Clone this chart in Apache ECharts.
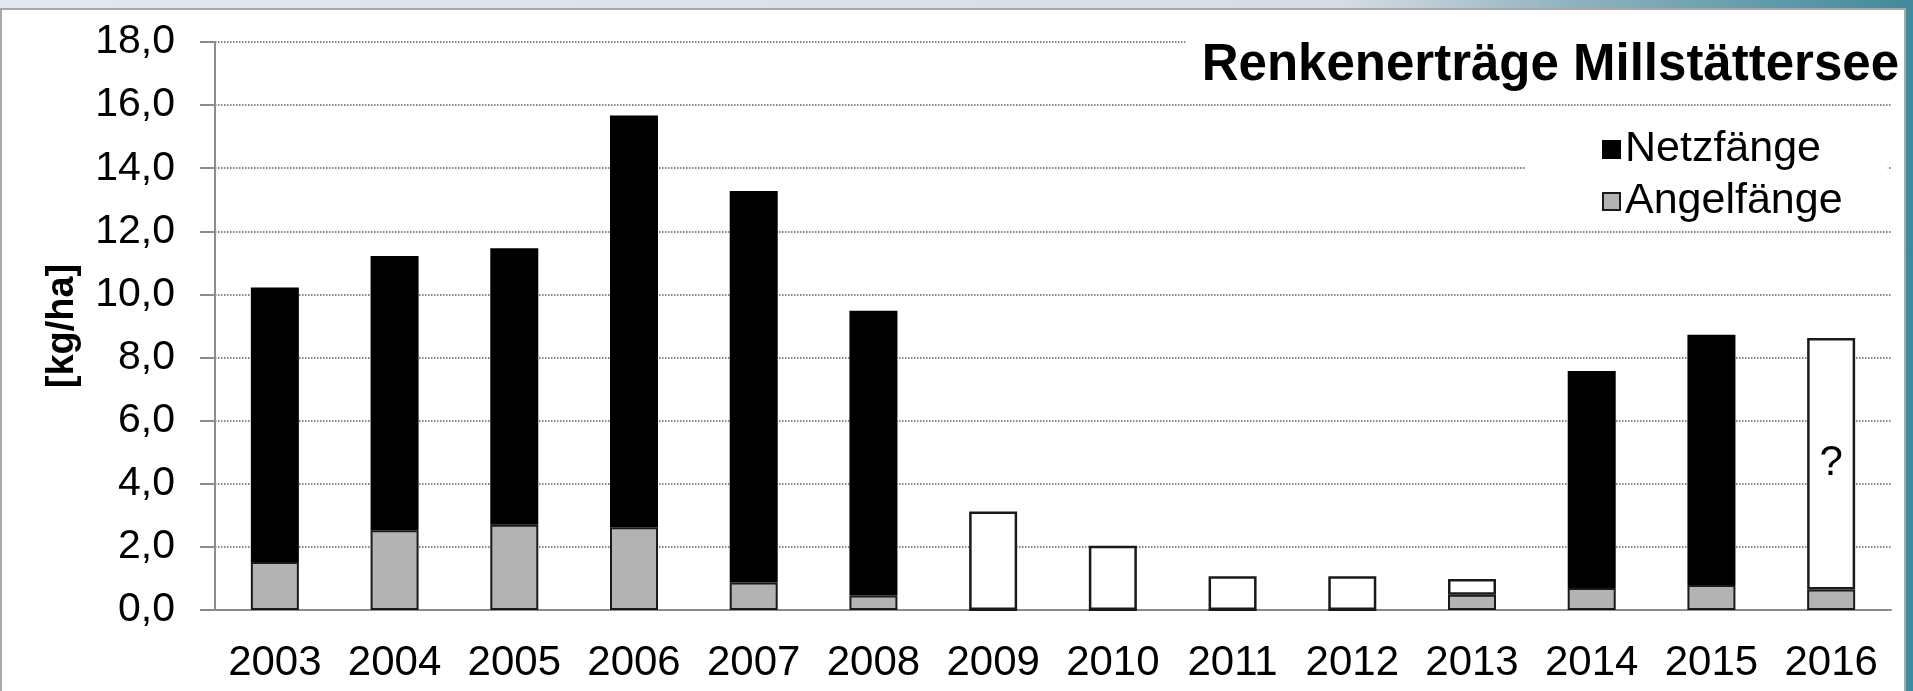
<!DOCTYPE html>
<html>
<head>
<meta charset="utf-8">
<title>Renkenerträge Millstättersee</title>
<script src="https://cdn.jsdelivr.net/npm/echarts@6/dist/echarts.min.js"></script>
<style>
html,body{margin:0;padding:0;width:1913px;height:691px;overflow:hidden;
	background:linear-gradient(90deg,#e3e8ec 0%,#d6dee3 70%,#8fb3bf 82%,#3f8a9c 100%);}
#frame{position:absolute;left:0;top:8px;width:1906px;height:690px;background:#fff;
	border-left:2px solid #a8a8a8;border-top:2px solid #a8a8a8;border-right:2px solid #a8a8a8;box-sizing:border-box;}
#chartDiv{position:absolute;left:0;top:0;width:1913px;height:691px;}
</style>
</head>
<body>
<div id="frame"></div>
<div id="chartDiv"></div>
<script>
// Renkenerträge [kg/ha], Werte
var years = ['2003','2004','2005','2006','2007','2008','2009','2010','2011','2012','2013','2014','2015','2016'];
var angelfaenge = [1.52, 2.53, 2.70, 2.62, 0.87, 0.46, 0, 0, 0, 0, 0.48, 0.70, 0.79, 0.65];
var netzfaenge = [8.70, 8.69, 8.76, 13.05, 12.41, 9.02, null, null, null, null, null, 6.87, 7.93, null];
// ohne Aufteilung (weiße Balken)
var unbekannt = [null, null, null, null, null, null, 3.12, 2.04, 1.07, 1.07, 0.50, null, null, 7.97];
var yTicks = {min: 0, max: 18, interval: 2};

var font = "'Liberation Sans', Arial, sans-serif";

var app = {};
app.chart = echarts.init(document.getElementById('chartDiv'));

// weißer Balken 2016 bekommt das Fragezeichen
var unbekanntData = unbekannt.map(function(v, i){
	if(years[i] == '2016')
	{
		return {value: v, label: {show: true, position: 'inside', formatter: '?',
			color: '#000', fontSize: 42, fontFamily: font}};
	}
	return v;
});

var option = {
	animation: false,
	backgroundColor: 'transparent',
	title: {
		text: 'Renkenerträge Millstättersee',
		right: 10,
		top: 34,
		padding: [6, 4, 8, 16],
		backgroundColor: '#fff',
		textStyle: {fontFamily: font, fontSize: 51, fontWeight: 'bold', color: '#000'}
	},
	legend: {
		data: ['Netzfänge', 'Angelfänge'],
		orient: 'vertical',
		left: 1525,
		top: 120,
		padding: [8, 45, 6, 77],
		backgroundColor: '#fff',
		icon: 'rect',
		itemWidth: 17,
		itemHeight: 17,
		itemGap: 9,
		textStyle: {fontFamily: font, fontSize: 43, color: '#000', lineHeight: 40}
	},
	grid: {left: 215, right: 22, top: 42, bottom: 81, containLabel: false},
	xAxis: {
		type: 'category',
		data: years,
		axisLine: {lineStyle: {color: '#8c8c8c', width: 2}},
		axisTick: {length: 15, lineStyle: {color: '#8c8c8c', width: 2}},
		axisLabel: {interval: 0, margin: 32, fontFamily: font, fontSize: 42, color: '#000'}
	},
	yAxis: {
		type: 'value',
		min: yTicks.min,
		max: yTicks.max,
		interval: yTicks.interval,
		name: '[kg/ha]',
		nameLocation: 'middle',
		nameRotate: 90,
		nameGap: 133,
		nameTextStyle: {fontFamily: font, fontSize: 38, fontWeight: 'bold', color: '#000'},
		axisLine: {show: true, lineStyle: {color: '#8c8c8c', width: 2}},
		axisTick: {show: true, length: 15, lineStyle: {color: '#8c8c8c', width: 2}},
		axisLabel: {margin: 40, fontFamily: font, fontSize: 41, color: '#000',
			formatter: function(v){ return v.toFixed(1).replace('.', ','); }},
		splitLine: {show: true, lineStyle: {color: '#5e5e5e', type: 'dotted', width: 1.5}}
	},
	series: [
		{
			name: 'Angelfänge', type: 'bar', stack: 'ertrag', barWidth: 48,
			itemStyle: {color: '#b3b3b3', borderColor: '#1a1a1a', borderWidth: 2},
			data: angelfaenge
		},
		{
			name: 'Netzfänge', type: 'bar', stack: 'ertrag', barWidth: 48,
			itemStyle: {color: '#000', borderColor: '#000', borderWidth: 2},
			data: netzfaenge
		},
		{
			name: 'unbekannt', type: 'bar', stack: 'ertrag', barWidth: 48,
			itemStyle: {color: '#fff', borderColor: '#1a1a1a', borderWidth: 2.5},
			data: unbekanntData
		}
	]
};
app.chart.setOption(option);
</script>
</body>
</html>
